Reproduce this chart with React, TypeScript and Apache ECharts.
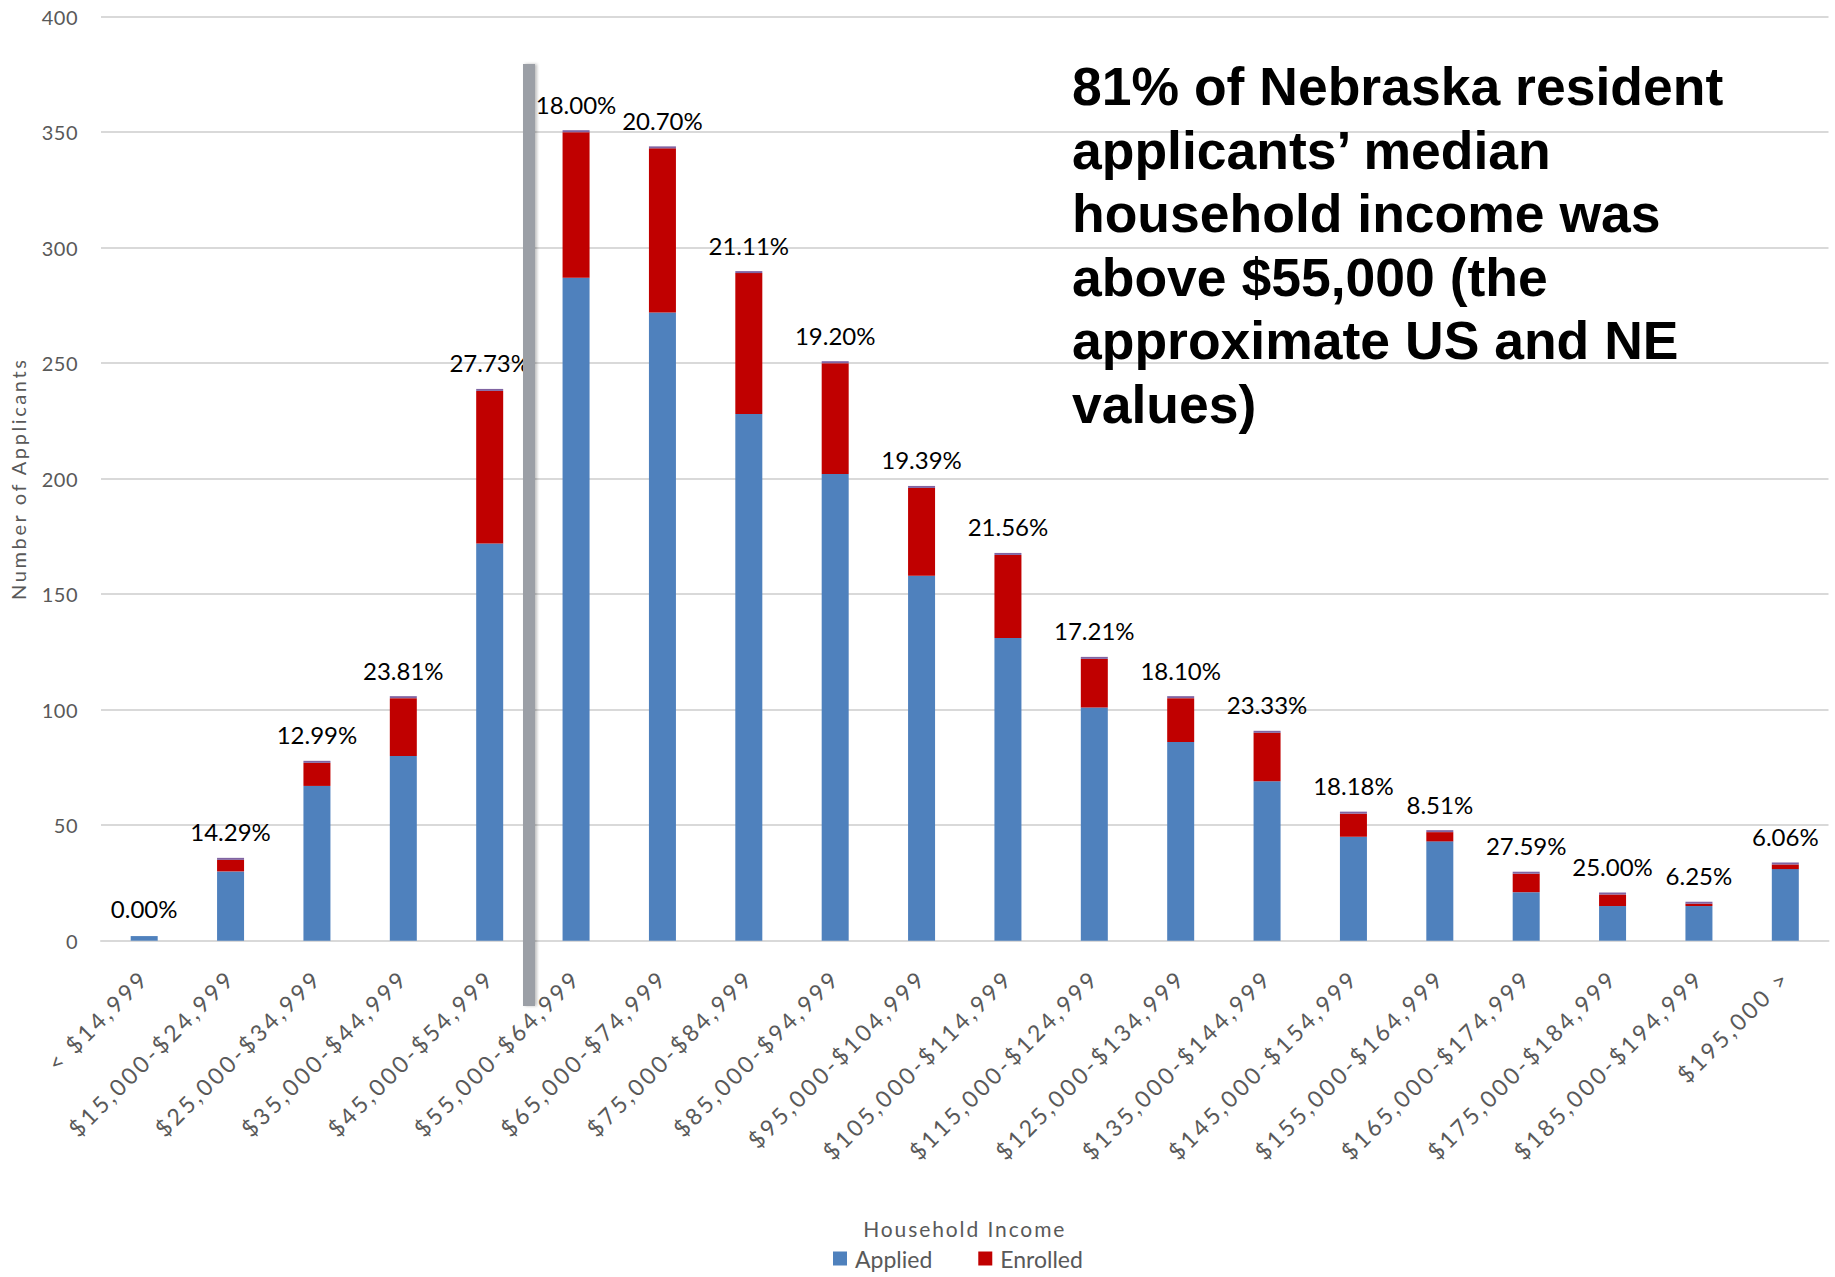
import React, { useEffect, useRef } from 'react';
import * as echarts from 'echarts';

const categories = [
  '< $14,999', '$15,000-$24,999', '$25,000-$34,999', '$35,000-$44,999', '$45,000-$54,999',
  '$55,000-$64,999', '$65,000-$74,999', '$75,000-$84,999', '$85,000-$94,999', '$95,000-$104,999',
  '$105,000-$114,999', '$115,000-$124,999', '$125,000-$134,999', '$135,000-$144,999', '$145,000-$154,999',
  '$155,000-$164,999', '$165,000-$174,999', '$175,000-$184,999', '$185,000-$194,999', '$195,000 >',
];
const applied = [2, 30, 67, 80, 172, 287, 272, 228, 202, 158, 131, 101, 86, 69, 45, 43, 21, 15, 15, 31];
const enrolled = [0, 5, 10, 25, 66, 63, 71, 61, 48, 38, 36, 21, 19, 21, 10, 4, 8, 5, 1, 2];
const enrolledRate = [0.0, 14.29, 12.99, 23.81, 27.73, 18.0, 20.7, 21.11, 19.2, 19.39, 21.56, 17.21, 18.1, 23.33, 18.18, 8.51, 27.59, 25.0, 6.25, 6.06];
const yMin = 0;
const yMax = 400;
const yInterval = 50;
const noteLines = [
  '81% of Nebraska resident',
  'applicants’ median',
  'household income was',
  'above $55,000 (the',
  'approximate US and NE',
  'values)',
];

const LABEL_FONT = 'Lato, "Open Sans", sans-serif';

export default function App() {
  const ref = useRef<HTMLDivElement>(null);
  useEffect(() => {
    if (!ref.current) return;
    const chart = echarts.init(ref.current, null, { renderer: 'svg' });
    const option: any = {
      animation: false,
      backgroundColor: '#ffffff',
      grid: { left: 100.5, right: 6.5, top: 16.7, bottom: 336.3, containLabel: false },
      legend: {
        data: ['Applied', 'Enrolled'],
        left: 828,
        top: 1242,
        itemWidth: 14,
        itemHeight: 14,
        itemGap: 46,
        icon: 'rect',
        textStyle: { fontFamily: LABEL_FONT, fontSize: 23, color: '#595959', padding: [0, 0, 0, 3] },
      },
      xAxis: {
        type: 'category',
        data: categories,
        name: 'Household Income',
        nameLocation: 'middle',
        nameGap: 277,
        nameTextStyle: { fontFamily: LABEL_FONT, fontSize: 21, color: '#595959' },
        axisLine: { show: true, lineStyle: { color: '#D9D9D9', width: 2 } },
        axisTick: { show: false },
        axisLabel: {
          interval: 0,
          rotate: 45,
          margin: 33,
          fontFamily: LABEL_FONT,
          fontSize: 23,
          color: '#595959',
        },
      },
      yAxis: {
        type: 'value',
        min: yMin,
        max: yMax,
        interval: yInterval,
        name: 'Number of Applicants',
        nameLocation: 'middle',
        nameGap: 73,
        nameRotate: 90,
        nameTextStyle: { fontFamily: LABEL_FONT, fontSize: 20, color: '#595959' },
        axisLine: { show: false },
        axisTick: { show: false },
        axisLabel: { margin: 23, fontFamily: LABEL_FONT, fontSize: 20, color: '#595959' },
        splitLine: { show: true, lineStyle: { color: '#D9D9D9', width: 2 } },
      },
      series: [
        {
          name: 'Applied',
          type: 'bar',
          stack: 'total',
          barWidth: 27,
          data: applied,
          itemStyle: { color: '#4F81BD' },
        },
        {
          name: 'Enrolled',
          type: 'bar',
          stack: 'total',
          barWidth: 27,
          data: enrolled,
          itemStyle: { color: '#C00000' },
        },
        {
          name: 'Rate',
          type: 'bar',
          stack: 'total',
          barWidth: 27,
          barMinHeight: 2,
          data: enrolledRate.map((r) => ({
            value: r / 100,
            itemStyle: r === 0 ? { color: 'rgba(0,0,0,0)' } : undefined,
          })),
          itemStyle: { color: '#8064A2' },
          label: {
            show: true,
            position: 'top',
            distance: 14,
            fontFamily: LABEL_FONT,
            fontSize: 24,
            color: '#000000',
            formatter: (p: any) => enrolledRate[p.dataIndex].toFixed(2) + '%',
          },
        },
      ],
      graphic: [
        {
          type: 'rect',
          z: 100,
          shape: { x: 523, y: 64, width: 12, height: 942 },
          style: { fill: '#9B9FA6', shadowBlur: 3, shadowOffsetX: 2, shadowColor: 'rgba(0,0,0,0.25)' },
        },
        {
          type: 'text',
          z: 100,
          left: 1072,
          top: 55,
          style: {
            text: noteLines.join('\n'),
            fontFamily: '"Liberation Sans", Arial, sans-serif',
            fontWeight: 'bold',
            fontSize: 53.5,
            lineHeight: 63.5,
            fill: '#000000',
          },
        },
      ],
    };
    chart.setOption(option);

    const applySpacing = () => {
      const root = ref.current;
      if (!root) return;
      root.querySelectorAll('text').forEach((t) => {
        const s = t.textContent || '';
        if (categories.includes(s)) t.setAttribute('letter-spacing', '3');
        else if (s === 'Number of Applicants') t.setAttribute('letter-spacing', '2.6');
        else if (s === 'Household Income') t.setAttribute('letter-spacing', '1.9');
        else if (/^\d+$/.test(s)) t.setAttribute('letter-spacing', '0.5');
      });
    };
    applySpacing();
    chart.on('finished', applySpacing);
    return () => {
      chart.dispose();
    };
  }, []);
  return (
    <div
      ref={ref}
      style={{ position: 'absolute', left: 0, top: 0, width: 1835, height: 1277, background: '#fff' }}
    />
  );
}
